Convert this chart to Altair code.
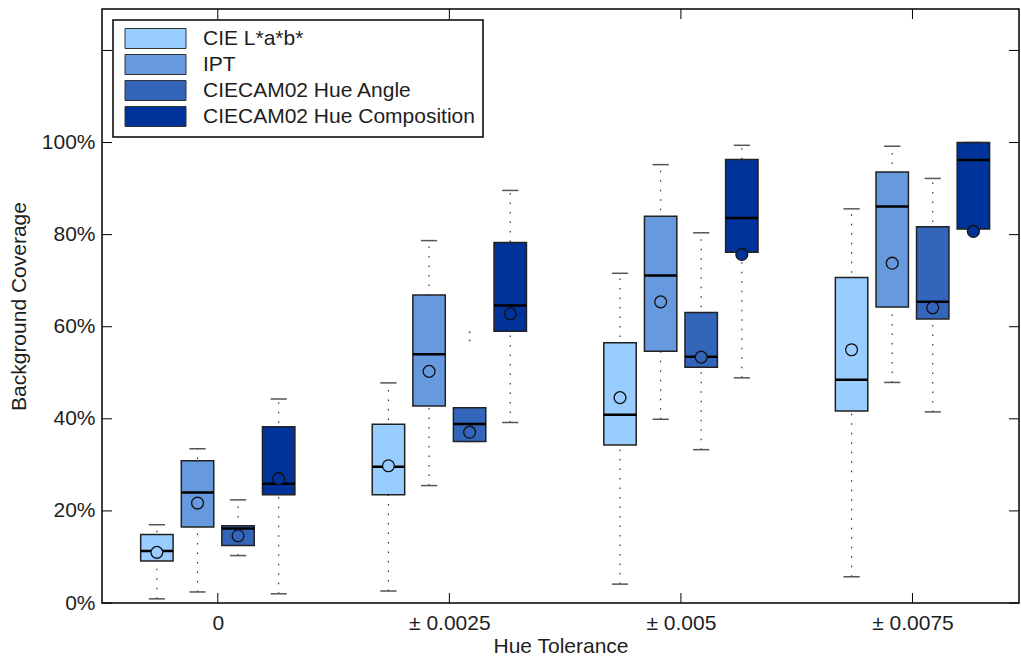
import altair as alt
import pandas as pd

# ---- data (fractions of background coverage) ----
groups = [1, 2, 3, 4]
group_labels = ["0", "± 0.0025", "± 0.005", "± 0.0075"]
series = ["CIE L*a*b*", "IPT", "CIECAM02 Hue Angle", "CIECAM02 Hue Composition"]
colors = ["#99ccff", "#6699dd", "#3366bb", "#003399"]
offsets = [-0.263, -0.0875, 0.0875, 0.263]

lab_lo = [0.009, 0.026, 0.041, 0.057]
lab_q1 = [0.091, 0.235, 0.343, 0.417]
lab_med = [0.113, 0.296, 0.409, 0.485]
lab_q3 = [0.149, 0.388, 0.565, 0.707]
lab_hi = [0.170, 0.478, 0.716, 0.856]
lab_mean = [0.110, 0.298, 0.446, 0.550]

ipt_lo = [0.024, 0.255, 0.399, 0.479]
ipt_q1 = [0.165, 0.428, 0.547, 0.643]
ipt_med = [0.240, 0.540, 0.711, 0.861]
ipt_q3 = [0.309, 0.669, 0.840, 0.936]
ipt_hi = [0.335, 0.787, 0.952, 0.992]
ipt_mean = [0.217, 0.503, 0.654, 0.738]

ha_lo = [0.103, 0.351, 0.333, 0.415]
ha_q1 = [0.125, 0.351, 0.512, 0.617]
ha_med = [0.162, 0.389, 0.535, 0.654]
ha_q3 = [0.168, 0.424, 0.631, 0.817]
ha_hi = [0.224, 0.424, 0.804, 0.922]
ha_mean = [0.146, 0.371, 0.534, 0.641]

hc_lo = [0.020, 0.392, 0.489, 0.812]
hc_q1 = [0.235, 0.590, 0.762, 0.812]
hc_med = [0.259, 0.646, 0.836, 0.962]
hc_q3 = [0.383, 0.783, 0.963, 1.000]
hc_hi = [0.443, 0.896, 0.994, 1.000]
hc_mean = [0.270, 0.628, 0.757, 0.807]

outlier_group = [2, 2]
outlier_series = ["CIECAM02 Hue Angle", "CIECAM02 Hue Angle"]
outlier_value = [0.588, 0.570]

y_ticks = [0, 0.2, 0.4, 0.6, 0.8, 1.0]
y_minor_ticks = [0, 0.2, 0.4, 0.6, 0.8, 1.0, 1.2]

# ---- build table ----
stats = {
    series[0]: (lab_lo, lab_q1, lab_med, lab_q3, lab_hi, lab_mean),
    series[1]: (ipt_lo, ipt_q1, ipt_med, ipt_q3, ipt_hi, ipt_mean),
    series[2]: (ha_lo, ha_q1, ha_med, ha_q3, ha_hi, ha_mean),
    series[3]: (hc_lo, hc_q1, hc_med, hc_q3, hc_hi, hc_mean),
}
rows = []
for si, s in enumerate(series):
    lo, q1, med, q3, hi, mn = stats[s]
    for gi, g in enumerate(groups):
        rows.append(dict(series=s, pos=g + offsets[si], lo=lo[gi], q1=q1[gi],
                         med=med[gi], q3=q3[gi], hi=hi[gi], mean=mn[gi]))
df = pd.DataFrame(rows)

out_df = pd.DataFrame(dict(
    pos=[g + offsets[series.index(s)] for g, s in zip(outlier_group, outlier_series)],
    value=outlier_value))

W, H = 917, 594
TICK = 10
FONT = "Liberation Sans"
TXT = "#1e1e1e"
FS = 21

xscale = alt.Scale(domain=[0.5, 4.46], nice=False, zero=False)
yscale = alt.Scale(domain=[0, 1.29], nice=False, zero=False)

base = alt.Chart(df).transform_calculate(
    bx1="datum.pos - 0.07", bx2="datum.pos + 0.07",
    cx1="datum.pos - 0.035", cx2="datum.pos + 0.035")

label_expr = ("datum.value == 1 ? '0' : datum.value == 2 ? '± 0.0025' : "
              "datum.value == 3 ? '± 0.005' : '± 0.0075'")

x_axis = alt.X("pos:Q", scale=xscale, title="Hue Tolerance",
               axis=alt.Axis(values=groups, labelExpr=label_expr, ticks=False,
                             domain=False, grid=False, labelPadding=9,
                             titlePadding=2))

whisk = base.mark_rule(strokeDash=[1.5, 8], strokeWidth=1.2, color="#333").encode(
    x=x_axis,
    y=alt.Y("lo:Q", scale=yscale, title="Background Coverage",
            axis=alt.Axis(values=y_ticks, format=".0%", ticks=False, domain=False,
                          grid=False, labelPadding=7, titlePadding=12)),
    y2="hi:Q")

cap_lo = base.mark_rule(strokeWidth=1.5, color="#555").encode(
    x="cx1:Q", x2="cx2:Q", y="lo:Q")
cap_hi = base.mark_rule(strokeWidth=1.5, color="#555").encode(
    x="cx1:Q", x2="cx2:Q", y="hi:Q")

boxes = base.mark_rect(stroke="#222", strokeWidth=1.5).encode(
    x="bx1:Q", x2="bx2:Q", y="q1:Q", y2="q3:Q",
    color=alt.Color("series:N", scale=alt.Scale(domain=series, range=colors),
                    legend=alt.Legend(
                        title=None, orient="none", legendX=11, legendY=11,
                        symbolType="M-3.05,-1L3.05,-1L3.05,1L-3.05,1Z",
                        symbolSize=400, symbolOffset=24, symbolStrokeColor="#333",
                        symbolStrokeWidth=1, symbolOpacity=1, labelOffset=37,
                        labelFontSize=FS, labelFont=FONT, labelColor=TXT,
                        labelLimit=400, rowPadding=1, padding=8,
                        strokeColor="#000", fillColor="#fff")))

medians = base.mark_rule(strokeWidth=2.5, color="#000").encode(
    x="bx1:Q", x2="bx2:Q", y="med:Q")

means = base.mark_point(filled=True, size=140, stroke="#111", strokeWidth=1.3,
                        opacity=1).encode(
    x="pos:Q", y="mean:Q",
    fill=alt.Fill("series:N", scale=alt.Scale(domain=series, range=colors), legend=None))

outliers = alt.Chart(out_df).mark_circle(size=4, color="#666", opacity=1).encode(
    x="pos:Q", y="value:Q")

ytk = alt.Chart(pd.DataFrame(dict(v=y_minor_ticks)))
ticks_left = ytk.mark_rule(color="#000", strokeWidth=1).encode(
    y="v:Q", x=alt.value(0), x2=alt.value(TICK))
ticks_right = ytk.mark_rule(color="#000", strokeWidth=1).encode(
    y="v:Q", x=alt.value(W - TICK), x2=alt.value(W))
xtk = alt.Chart(pd.DataFrame(dict(g=groups)))
ticks_bottom = xtk.mark_rule(color="#000", strokeWidth=1).encode(
    x="g:Q", y=alt.value(H - TICK), y2=alt.value(H))
ticks_top = xtk.mark_rule(color="#000", strokeWidth=1).encode(
    x="g:Q", y=alt.value(0), y2=alt.value(TICK))

chart = alt.layer(
    whisk, cap_lo, cap_hi, boxes, medians, means, outliers,
    ticks_left, ticks_right, ticks_bottom, ticks_top
).resolve_scale(color="shared").properties(
    width=W, height=H,
    autosize=alt.AutoSizeParams(type="none"),
    padding={"left": 102, "top": 9, "right": 2, "bottom": 55},
    background="#ffffff",
).configure_view(
    stroke="#000", strokeWidth=1.5
).configure_axis(
    labelFont=FONT, titleFont=FONT, labelFontSize=FS, titleFontSize=FS,
    labelColor=TXT, titleColor=TXT, titleFontWeight="normal"
).configure_legend(
    strokeWidth=1.5
)

chart.save("out.html", embed_options={"renderer": "svg", "actions": False})
